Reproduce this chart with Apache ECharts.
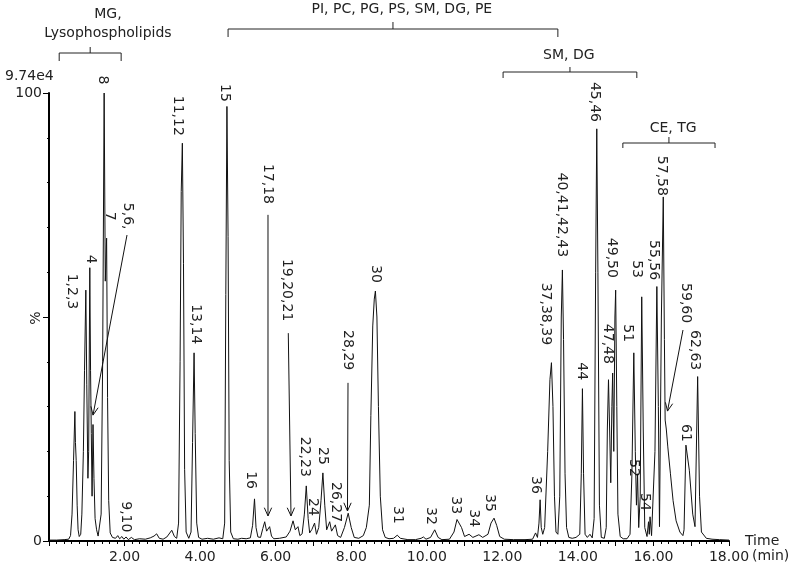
<!DOCTYPE html>
<html><head><meta charset="utf-8">
<script src="https://cdn.jsdelivr.net/npm/echarts@6/dist/echarts.min.js"></script>
<style>html,body{margin:0;padding:0;background:#fff}#c{width:796px;height:567px}</style>
</head><body><div id="c"></div>
<script>
// Retention time (min) vs relative abundance (%)
const chromatogram = [
[0.00,0.2],[0.20,0.2],[0.40,0.3],[0.52,0.4],[0.57,1.2],[0.61,6],[0.65,18],[0.685,28.9],[0.70,22],[0.72,18],[0.745,8],[0.77,2.5],[0.80,1.0],[0.84,1.5],[0.87,6],[0.91,20],[0.94,38],[0.975,56],[1.00,35],[1.03,14],[1.05,20],[1.08,61],[1.10,38],[1.12,24],[1.14,10],[1.165,26],[1.19,14],[1.22,5],[1.26,2.5],[1.30,1.1],[1.34,1.5],[1.38,6],[1.42,40],[1.46,100],[1.49,58],[1.525,67.6],[1.55,32],[1.58,9],[1.62,1.8],[1.68,0.8],[1.76,0.6],[1.82,1.2],[1.87,0.5],[1.93,1.0],[1.98,0.4],[2.04,0.9],[2.10,0.3],[2.18,0.8],[2.26,0.3],[2.40,0.5],[2.55,0.4],[2.68,0.7],[2.78,1.1],[2.85,1.6],[2.92,0.6],[3.02,0.4],[3.12,0.9],[3.25,2.4],[3.32,1.0],[3.38,0.6],[3.43,4],[3.47,40],[3.50,78],[3.53,88.8],[3.56,62],[3.59,16],[3.63,2],[3.70,0.6],[3.76,2],[3.80,22],[3.84,42],[3.87,24],[3.91,4],[3.96,0.8],[4.05,0.4],[4.20,0.6],[4.35,0.4],[4.50,0.7],[4.60,0.5],[4.65,4],[4.68,55],[4.71,97],[4.74,68],[4.77,18],[4.81,2],[4.88,0.5],[5.00,0.4],[5.10,0.6],[5.22,0.5],[5.33,0.7],[5.39,3.5],[5.44,9.4],[5.48,3],[5.53,0.9],[5.60,0.8],[5.66,2.8],[5.71,4.3],[5.76,2.2],[5.80,2.6],[5.84,3.2],[5.89,1.1],[5.95,0.5],[6.10,0.6],[6.28,0.9],[6.38,2.2],[6.46,4.5],[6.52,2.5],[6.59,3.2],[6.64,1.2],[6.70,1.6],[6.76,6],[6.81,12.3],[6.86,5],[6.90,1.8],[6.96,2.6],[7.03,4],[7.08,1.5],[7.14,3],[7.20,9],[7.25,15.2],[7.30,8],[7.35,2.5],[7.43,4.3],[7.48,2.2],[7.53,2.6],[7.58,3.6],[7.64,1.2],[7.72,0.8],[7.82,3],[7.92,6.2],[8.00,3],[8.08,0.8],[8.20,0.6],[8.32,1.2],[8.40,3],[8.44,3.2],[8.48,8],[8.52,28],[8.57,48],[8.61,54],[8.64,55.8],[8.68,50],[8.72,30],[8.77,10],[8.83,2.5],[8.90,0.8],[9.00,0.5],[9.12,0.6],[9.22,1.3],[9.30,0.6],[9.50,0.3],[9.70,0.3],[9.85,0.6],[9.91,0.9],[9.98,0.4],[10.10,0.8],[10.21,2.5],[10.30,0.8],[10.40,0.3],[10.60,0.4],[10.72,2],[10.80,4.8],[10.85,5.1],[10.92,3],[11.00,1],[11.12,1.5],[11.22,0.8],[11.38,1.4],[11.48,0.8],[11.62,1.5],[11.70,4],[11.78,5.1],[11.85,3.5],[11.93,1],[12.05,0.4],[12.30,0.3],[12.60,0.3],[12.80,0.4],[12.88,1.8],[12.93,0.8],[12.97,4],[13.00,9.2],[13.03,3],[13.07,1.5],[13.12,3],[13.20,20],[13.26,36],[13.30,39.8],[13.34,30],[13.38,10],[13.42,2],[13.47,1.5],[13.52,10],[13.56,50],[13.59,60.5],[13.62,45],[13.66,15],[13.70,3],[13.76,0.8],[13.85,0.6],[13.95,0.8],[14.05,1.5],[14.09,15],[14.12,34],[14.15,15],[14.19,1.5],[14.25,0.8],[14.32,1.5],[14.38,0.7],[14.43,5],[14.47,60],[14.50,92],[14.53,60],[14.57,8],[14.62,0.8],[14.70,0.6],[14.75,3],[14.78,25],[14.81,36],[14.84,25],[14.87,13],[14.90,30],[14.92,37.5],[14.95,20],[14.98,50],[15.00,56],[15.03,30],[15.06,6],[15.12,1],[15.20,0.5],[15.30,0.5],[15.38,1.5],[15.43,15],[15.48,42],[15.52,20],[15.55,8],[15.58,15],[15.61,3],[15.65,10],[15.69,54.5],[15.73,25],[15.77,3],[15.83,1],[15.87,4.3],[15.89,1.5],[15.91,5.4],[15.95,1.2],[16.00,1.5],[16.04,20],[16.09,56.8],[16.13,30],[16.16,3.2],[16.21,50],[16.26,76.8],[16.29,45],[16.31,27],[16.34,25],[16.38,21],[16.45,15],[16.52,9],[16.60,4.5],[16.70,2],[16.78,1.2],[16.81,2.5],[16.86,21.4],[16.95,15.8],[17.04,6],[17.10,3.2],[17.17,36.7],[17.22,10],[17.27,2],[17.40,0.6],[17.55,0.4],[17.75,0.3],[18.00,0.2]
];

// Peak labels: [text, time of label centre, height of label centre (%)]
const peakLabels = [
['1,2,3',0.609,55.7],['4',1.112,62.9],['5,6,\n7',1.853,72.5],['8',1.429,102.9],['9,10',2.038,5.4],
['11,12',3.415,94.9],['13,14',3.891,48.4],['15',4.659,100.0],['16',5.347,13.6],['17,18',5.784,79.7],
['19,20,21',6.287,56.0],['22,23',6.776,18.8],['24',6.988,7.6],['25',7.253,19.0],['26,27',7.584,8.7],
['28,29',7.915,42.6],['30',8.656,59.6],['31',9.238,5.8],['32',10.112,5.6],['33',10.774,8.0],
['34',11.25,5.1],['35',11.673,8.5],['36',12.891,12.5],['37,38,39',13.155,50.7],['40,41,42,43',13.579,72.8],
['44',14.108,37.9],['45,46',14.452,98.0],['47,48',14.797,44.0],['49,50',14.903,63.2],['51',15.326,46.4],
['52',15.485,16.3],['53',15.564,60.7],['54',15.776,8.7],['55,56',16.014,62.7],['57,58',16.213,81.5],
['59,60',16.862,53.1],['61',16.862,24.1],['62,63',17.10,42.6]
];

// Arrows: [from time, from %, to time, to %]
const arrows = [
[2.065,68.3,1.165,28.1],[5.797,72.8,5.797,5.6],[6.334,46.4,6.406,5.6],[7.915,35.3,7.901,6.7],[16.782,47.1,16.372,29.0]
];

// Lipid class groups: [text, start time, end time, text centre time]
const groups = [
['MG,\nLysophospholipids',0.27,1.91,1.56],
['PI, PC, PG, PS, SM, DG, PE',4.74,13.47,9.34],
['SM, DG',12.02,15.56,13.76],
['CE, TG',15.19,17.63,16.52]
];

const FONT = '"DejaVu Sans", Verdana, sans-serif';
const INK = '#222';
const chart = echarts.init(document.getElementById('c'), null, {renderer:'canvas'});
chart.setOption({
  animation:false,
  grid:{left:49, right:67, top:93, bottom:26, containLabel:false},
  xAxis:{type:'value', min:0, max:18, interval:1,
    axisLine:{show:true, onZero:false, lineStyle:{color:'#000', width:2}},
    axisTick:{show:true, length:5, lineStyle:{color:'#000', width:1}},
    minorTick:{show:true, splitNumber:5, length:3, lineStyle:{color:'#000', width:1}},
    splitLine:{show:false}, minorSplitLine:{show:false},
    axisLabel:{formatter:v => (v>0 && v%2===0) ? v.toFixed(2) : '', fontFamily:FONT, fontSize:14, color:INK, margin:9}
  },
  yAxis:{type:'value', min:0, max:100, interval:50,
    axisLine:{show:true, lineStyle:{color:'#000', width:2}},
    axisTick:{show:true, length:6, lineStyle:{color:'#000', width:1}},
    minorTick:{show:true, splitNumber:5, length:2, lineStyle:{color:'#000', width:1}},
    splitLine:{show:false},
    axisLabel:{formatter:v => v===50 ? '' : String(v), fontFamily:FONT, fontSize:14, color:INK, margin:7}
  },
  series:[{type:'line', data:chromatogram, showSymbol:false, silent:true,
    lineStyle:{color:'#111', width:1}}]
});

function px(t, v){ return chart.convertToPixel({gridIndex:0}, [t, v]); }
const gfx = [];
const txt = (x, y, text, extra) => Object.assign({type:'text', x, y, silent:true,
  style:Object.assign({text, font:'14px ' + FONT, fill:INK, align:'center', verticalAlign:'middle', lineHeight:18}, extra||{})});

peakLabels.forEach(([text, t, v]) => {
  const [x, y] = px(t, v);
  const el = txt(x, y, text);
  el.rotation = -Math.PI/2;
  gfx.push(el);
});

arrows.forEach(([t1, v1, t2, v2]) => {
  const [x1, y1] = px(t1, v1), [x2, y2] = px(t2, v2);
  gfx.push({type:'polyline', silent:true, shape:{points:[[x1,y1],[x2,y2]]}, style:{stroke:'#111', lineWidth:1, fill:null}});
  const ang = Math.atan2(y2-y1, x2-x1), L = 9, W = 0.42;
  const a = [x2 - L*Math.cos(ang-W), y2 - L*Math.sin(ang-W)];
  const b = [x2 - L*Math.cos(ang+W), y2 - L*Math.sin(ang+W)];
  gfx.push({type:'polyline', silent:true, shape:{points:[a,[x2,y2],b]}, style:{stroke:'#111', lineWidth:1, fill:null}});
});

// bracket layout (pixel rows above plot)
const bracketRows = [
  {bar:53, end:61, tip:47, text:[14,33]},
  {bar:29, end:37, tip:22, text:[9]},
  {bar:72, end:78, tip:67, text:[55]},
  {bar:143, end:148, tip:137, text:[128]}
];
groups.forEach(([text, t1, t2, tc], i) => {
  const r = bracketRows[i];
  const x1 = px(t1, 0)[0], x2 = px(t2, 0)[0], xm = (x1 + x2)/2, xt = px(tc, 0)[0];
  gfx.push({type:'polyline', silent:true, shape:{points:[[x1,r.end],[x1,r.bar],[x2,r.bar],[x2,r.end]]}, style:{stroke:'#222', lineWidth:1, fill:null}});
  gfx.push({type:'polyline', silent:true, shape:{points:[[xm,r.bar],[xm,r.tip]]}, style:{stroke:'#222', lineWidth:1, fill:null}});
  const lines = text.split('\n');
  lines.forEach((s, k) => gfx.push(txt(xt, r.text[k], s)));
});

gfx.push(txt(5, 76, '9.74e4', {align:'left'}));
const pc = txt(36, 318, '%');
pc.rotation = Math.PI/2;
gfx.push(pc);
gfx.push(txt(745, 541, 'Time', {align:'left'}));
gfx.push(txt(752, 556, '(min)', {align:'left'}));

chart.setOption({graphic:{elements:gfx}});
</script>
</body></html>
